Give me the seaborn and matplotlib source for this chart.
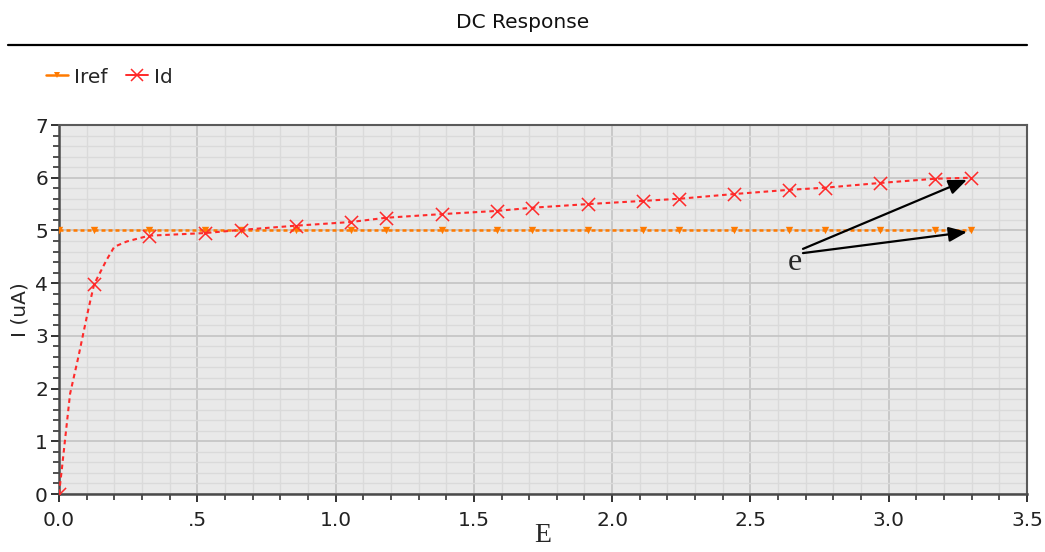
import numpy as np
import pandas as pd
import matplotlib
matplotlib.use("Agg")
import matplotlib.pyplot as plt
from matplotlib.lines import Line2D
from matplotlib.ticker import MultipleLocator
import seaborn as sns

# Id: dense simulated curve (line) and sampled points (markers)
id_curve_x = [0.0, 0.01, 0.04, 0.07, 0.106, 0.127, 0.172, 0.2, 0.245, 0.325,
              0.528, 0.658, 0.857, 1.056, 1.182, 1.385, 1.583, 1.71, 1.913,
              2.111, 2.241, 2.44, 2.639, 2.769, 2.968, 3.167, 3.297]
id_curve_y = [0.0, 0.46, 1.9, 2.6, 3.5, 3.98, 4.44, 4.69, 4.79, 4.90,
              4.95, 5.01, 5.09, 5.16, 5.24, 5.31, 5.37, 5.43, 5.50,
              5.56, 5.60, 5.69, 5.77, 5.81, 5.90, 5.98, 6.00]
id_mark_x = [0.0, 0.127, 0.325, 0.528, 0.658, 0.857, 1.056, 1.182, 1.385, 1.583,
             1.71, 1.913, 2.111, 2.241, 2.44, 2.639, 2.769, 2.968, 3.167, 3.297]
id_mark_y = [0.0, 3.98, 4.90, 4.95, 5.01, 5.09, 5.16, 5.24, 5.31, 5.37,
             5.43, 5.50, 5.56, 5.60, 5.69, 5.77, 5.81, 5.90, 5.98, 6.00]

# Iref: reference current
iref_x = [0.0, 0.127, 0.325, 0.528, 0.658, 0.857, 1.056, 1.182, 1.385, 1.583,
          1.71, 1.913, 2.111, 2.241, 2.44, 2.639, 2.769, 2.968, 3.167, 3.297]
iref_y = [5.0] * len(iref_x)

xtick_vals = [0.0, 0.5, 1.0, 1.5, 2.0, 2.5, 3.0, 3.5]
xtick_labels = ["0.0", ".5", "1.0", "1.5", "2.0", "2.5", "3.0", "3.5"]
ytick_vals = [0, 1, 2, 3, 4, 5, 6, 7]

sns.set_theme(style="ticks", rc={
    "axes.facecolor": "#e9e9e9",
    "axes.edgecolor": "#4a4a4a",
    "axes.linewidth": 1.8,
    "xtick.color": "#222222",
    "ytick.color": "#222222",
    "xtick.major.size": 6, "ytick.major.size": 6,
    "xtick.minor.size": 4, "ytick.minor.size": 4,
    "xtick.major.width": 1.3, "ytick.major.width": 1.3,
    "xtick.minor.width": 1.1, "ytick.minor.width": 1.1,
})
plt.rcParams["font.family"] = ["DejaVu Sans"]

ORANGE = "#ff7a00"
RED = "#ff2a2a"

fig = plt.figure(figsize=(10.45, 5.52), dpi=100)
ax = fig.add_axes([59 / 1045, 1 - 494 / 552, (1027 - 59) / 1045, (494 - 125) / 552])

df_id = pd.DataFrame({"E": id_curve_x, "I": id_curve_y})
df_id_pts = pd.DataFrame({"E": id_mark_x, "I": id_mark_y})
df_ref = pd.DataFrame({"E": iref_x, "I": iref_y})

sns.lineplot(data=df_ref, x="E", y="I", ax=ax, color=ORANGE, lw=1.8,
             linestyle=(0, (1.6, 1.2)), sort=False, zorder=3)
sns.scatterplot(data=df_ref, x="E", y="I", ax=ax, color=ORANGE, marker="v",
                s=28, linewidth=0, zorder=4)
sns.lineplot(data=df_id, x="E", y="I", ax=ax, color=RED, lw=1.5,
             linestyle=(0, (2.2, 1.8)), sort=False, zorder=5)
sns.scatterplot(data=df_id_pts, x="E", y="I", ax=ax, color=RED, marker="x",
                s=90, linewidth=1.1, zorder=6)

ax.set_xlim(0, 3.5)
ax.set_ylim(0, 7)
ax.set_xticks(xtick_vals)
ax.set_xticklabels(xtick_labels)
ax.set_yticks(ytick_vals)
ax.xaxis.set_minor_locator(MultipleLocator(0.1))
ax.yaxis.set_minor_locator(MultipleLocator(0.2))
ax.tick_params(axis="both", which="both", direction="out", labelsize=14.5, pad=2)
ax.tick_params(axis="x", which="major", pad=6)
ax.grid(which="major", color="#c6c6c6", lw=1.3)
ax.grid(which="minor", color="#dadada", lw=1.0)
ax.set_axisbelow(True)
for side in ("top", "right"):
    ax.spines[side].set_visible(True)
    ax.spines[side].set_color("#5a5a5a")
    ax.spines[side].set_linewidth(1.5)

ax.set_ylabel("I (uA)", fontsize=14.5, labelpad=4)
ax.set_xlabel("E", fontsize=20, family="Liberation Serif", labelpad=-5)

# annotation with two arrows
ax.text(2.66, 4.40, "e", fontsize=23, family="Liberation Serif",
        ha="center", va="center", zorder=8)
arrow = dict(arrowstyle="-|>,head_length=1.1,head_width=0.45", color="black",
             lw=1.6, shrinkA=0, shrinkB=0, mutation_scale=10)
ax.annotate("", xy=(3.283, 5.96), xytext=(2.69, 4.65), arrowprops=arrow, zorder=8)
ax.annotate("", xy=(3.283, 4.97), xytext=(2.69, 4.57), arrowprops=arrow, zorder=8)

# header
fig.text(523 / 1045, 1 - 22 / 552, "DC Response", ha="center", va="center",
         fontsize=14.5, color="#111111")
fig.add_artist(Line2D([8 / 1045, 1027 / 1045], [1 - 45 / 552, 1 - 45 / 552],
                      color="black", lw=1.6))

handles = [
    Line2D([], [], color=ORANGE, lw=1.8, marker="v", markersize=5, markeredgewidth=0),
    Line2D([], [], color=RED, lw=1.4, marker="x", markersize=9, markeredgewidth=1.1),
]
fig.legend(handles, ["Iref", "Id"], loc="center left",
           bbox_to_anchor=(28 / 1045, 1 - 77 / 552), ncol=2, frameon=False,
           fontsize=14.5, handlelength=1.1, handletextpad=0.3, columnspacing=0.9)

if ax.get_legend() is not None:
    ax.get_legend().remove()

fig.savefig("out.png", dpi=100)
